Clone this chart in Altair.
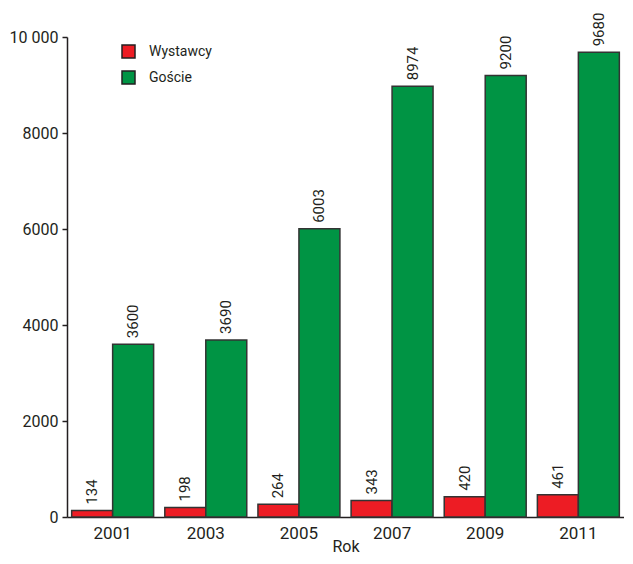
import altair as alt
import pandas as pd

years = ["2001", "2003", "2005", "2007", "2009", "2011"]
wystawcy = [134, 198, 264, 343, 420, 461]
goscie = [3600, 3690, 6003, 8974, 9200, 9680]
series = ["Wystawcy", "Goście"]
colors = ["#ED1C24", "#009444"]

rows = []
for y, w, g in zip(years, wystawcy, goscie):
    rows.append({"Rok": y, "Seria": series[0], "Wartosc": w})
    rows.append({"Rok": y, "Seria": series[1], "Wartosc": g})
df = pd.DataFrame(rows)

FONT = "Roboto"
INK = "#231F20"

x = alt.X("Rok:N", title="Rok", sort=years,
          scale=alt.Scale(paddingInner=0.12, paddingOuter=0.05),
          axis=alt.Axis(labelAngle=0, ticks=False, labelFontSize=17, labelPadding=8,
                        titleFontSize=16, titleFontWeight="normal",
                        titleY=34, titleBaseline="alphabetic",
                        domainColor=INK, domainWidth=1.5, labelColor=INK,
                        titleColor=INK, labelFont=FONT, titleFont=FONT))
xo = alt.XOffset("Seria:N", sort=series)
y = alt.Y("Wartosc:Q", title=None,
          scale=alt.Scale(domain=[0, 10000], nice=False),
          axis=alt.Axis(values=[0, 2000, 4000, 6000, 8000, 10000], grid=False,
                        labelExpr="datum.value == 10000 ? '10 000' : datum.value",
                        labelFontSize=16, labelPadding=4, tickSize=5,
                        tickColor=INK, tickWidth=1.5,
                        domainColor=INK, domainWidth=1.5, labelColor=INK,
                        labelFont=FONT))
color = alt.Color("Seria:N", sort=series,
                  scale=alt.Scale(domain=series, range=colors),
                  legend=alt.Legend(title=None, orient="none", legendX=54, legendY=7,
                                    symbolType="square", symbolSize=169,
                                    symbolStrokeColor=INK, symbolStrokeWidth=1.5,
                                    labelFontSize=14, labelFont=FONT, labelColor=INK,
                                    labelOffset=13, rowPadding=7, padding=0))

base = alt.Chart(df)
bars = base.mark_bar(stroke="#333333", strokeWidth=1.5).encode(
    x=x, xOffset=xo, y=y, color=color)
labels = base.mark_text(angle=270, align="left", baseline="middle", dx=6,
                        fontSize=15, font=FONT, color=INK).encode(
    x=x, xOffset=xo, y=y, text="Wartosc:Q")

chart = (bars + labels).properties(
    width=557, height=480,
    autosize=alt.AutoSizeParams(type="none"),
    padding={"left": 59, "top": 29, "right": 0, "bottom": 39},
).configure(font=FONT).configure_view(stroke=None)

chart.save("out.html", embed_options={"renderer": "svg", "actions": False})
